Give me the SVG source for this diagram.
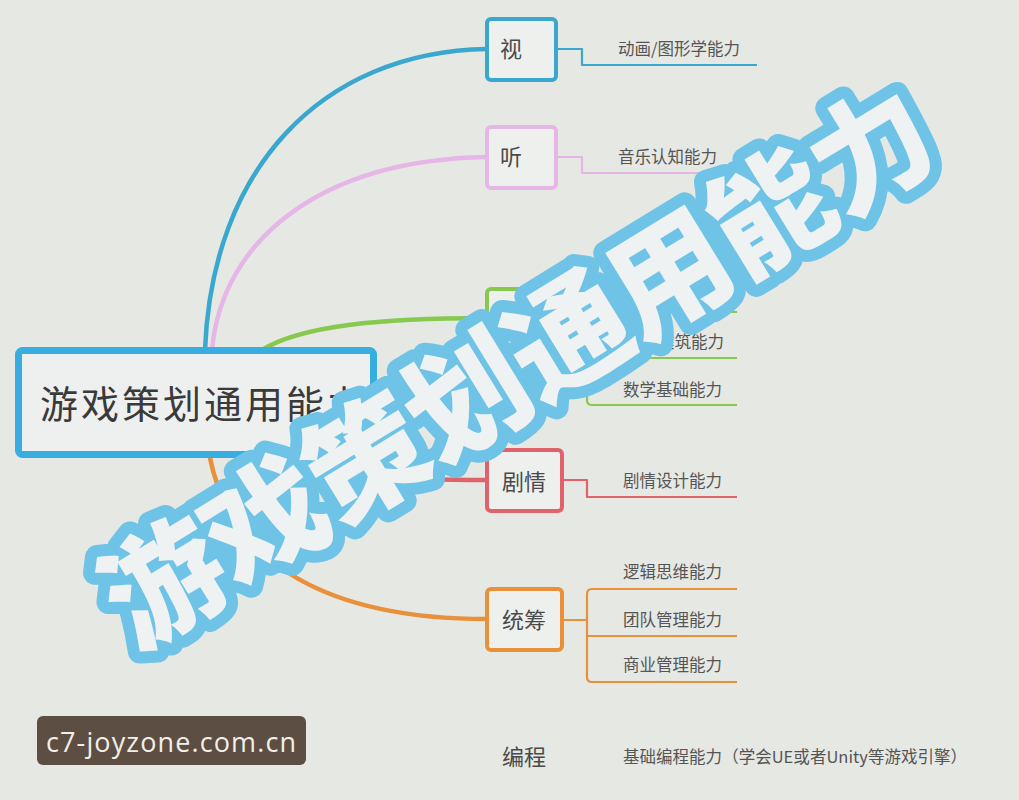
<svg xmlns="http://www.w3.org/2000/svg" width="1019" height="800" viewBox="0 0 1019 800">
<style>
.cjk{font-family:"Noto Sans CJK SC","Noto Sans",sans-serif;}
.node{fill:#eef0ee;stroke-width:4;}
.nlabel{font-size:22px;fill:#4a4a4a;}
.clabel{font-size:16.5px;fill:#555;}
.br{fill:none;stroke-width:4.5;stroke-linecap:round;}
.ch{fill:none;stroke-width:2.2;stroke-linejoin:round;}
</style>
<rect width="1019" height="800" fill="#e6e8e4"/>
<g id="connectors">
<path class="br" stroke="#3aa7cf" d="M205,350 C212,170 320,52 487,49"/>
<path class="br" stroke="#e6b6e6" d="M212,350 C222,240 320,160 487,157"/>
<path class="br" stroke="#86c94e" d="M262,350 C300,326 380,318 487,318"/>
<path class="br" stroke="#e0626a" d="M330,458 C360,478 400,480 487,480"/>
<path class="br" stroke="#e8903a" d="M210,458 C232,565 330,619 487,619"/>
<path class="ch" stroke="#3aa7cf" d="M557,49 H582 V65 H757"/>
<path class="ch" stroke="#e6b6e6" d="M557,157 H582 V173 H757"/>
<path class="ch" stroke="#86c94e" d="M557,318 H587 M737,312 H592 Q587,312 587,317 V400 Q587,405 592,405 H737 M587,358 H737"/>
<path class="ch" stroke="#e0626a" d="M563,480 H587 V497 H737"/>
<path class="ch" stroke="#e8903a" d="M563,620 H587 M737,589 H592 Q587,589 587,594 V677 Q587,682 592,682 H737 M587,636 H737"/>
</g>
<g id="main">
<rect x="18.5" y="350.5" width="355" height="104" rx="4" fill="#eef0ef" stroke="#38ade0" stroke-width="7"/>
<text class="cjk" x="40" y="418" font-size="38" letter-spacing="3" fill="#3a3a3a">游戏策划通用能力</text>
</g>
<g id="n-shi"><rect class="node" x="487" y="19" width="69" height="61" rx="4" stroke="#3aa7cf"/><text class="cjk nlabel" x="500" y="57">视</text></g>
<g id="c-shi"><text class="cjk clabel" x="618" y="55">动画/图形学能力</text></g>
<g id="n-ting"><rect class="node" x="487" y="127" width="69" height="61" rx="4" stroke="#e6b6e6"/><text class="cjk nlabel" x="500" y="165">听</text></g>
<g id="c-ting"><text class="cjk clabel" x="618" y="163">音乐认知能力</text></g>
<g id="n-green"><rect class="node" x="487" y="289" width="69" height="61" rx="4" stroke="#86c94e"/></g>
<g id="c-green"><text class="cjk clabel" x="658" y="348">建筑能力</text><text class="cjk clabel" x="623" y="396">数学基础能力</text></g>
<g id="n-juqing"><rect class="node" x="487" y="450" width="75" height="61" rx="4" stroke="#e0626a"/><text class="cjk nlabel" x="502" y="490">剧情</text></g>
<g id="c-juqing"><text class="cjk clabel" x="623" y="487">剧情设计能力</text></g>
<g id="n-tongchou"><rect class="node" x="487" y="589" width="75" height="61" rx="4" stroke="#e8903a"/><text class="cjk nlabel" x="502" y="628">统筹</text></g>
<g id="c-tongchou"><text class="cjk clabel" x="623" y="578">逻辑思维能力</text><text class="cjk clabel" x="623" y="626">团队管理能力</text><text class="cjk clabel" x="623" y="671">商业管理能力</text></g>
<g id="n-biancheng"><text class="cjk nlabel" x="502" y="765" fill="#555">编程</text></g>
<g id="c-biancheng"><text class="cjk clabel" x="623" y="763" textLength="344">基础编程能力（学会UE或者Unity等游戏引擎）</text></g>
<g id="watermark">
<text class="cjk" transform="translate(516,365) rotate(-31.5)" x="0" y="46" text-anchor="middle" font-size="120" font-weight="900" letter-spacing="-1.5" fill="#eef2f3" stroke="#6ec3e6" stroke-width="24" stroke-linejoin="round" paint-order="stroke">游戏策划通用能力</text>
</g>
<g id="site">
<rect x="37" y="716" width="269" height="49" rx="6" fill="#5c4e42"/>
<text x="171" y="752" text-anchor="middle" font-family="'Open Sans','Noto Sans',sans-serif" font-size="27" fill="#f2eee8" textLength="250">c7-joyzone.com.cn</text>
</g>
</svg>
